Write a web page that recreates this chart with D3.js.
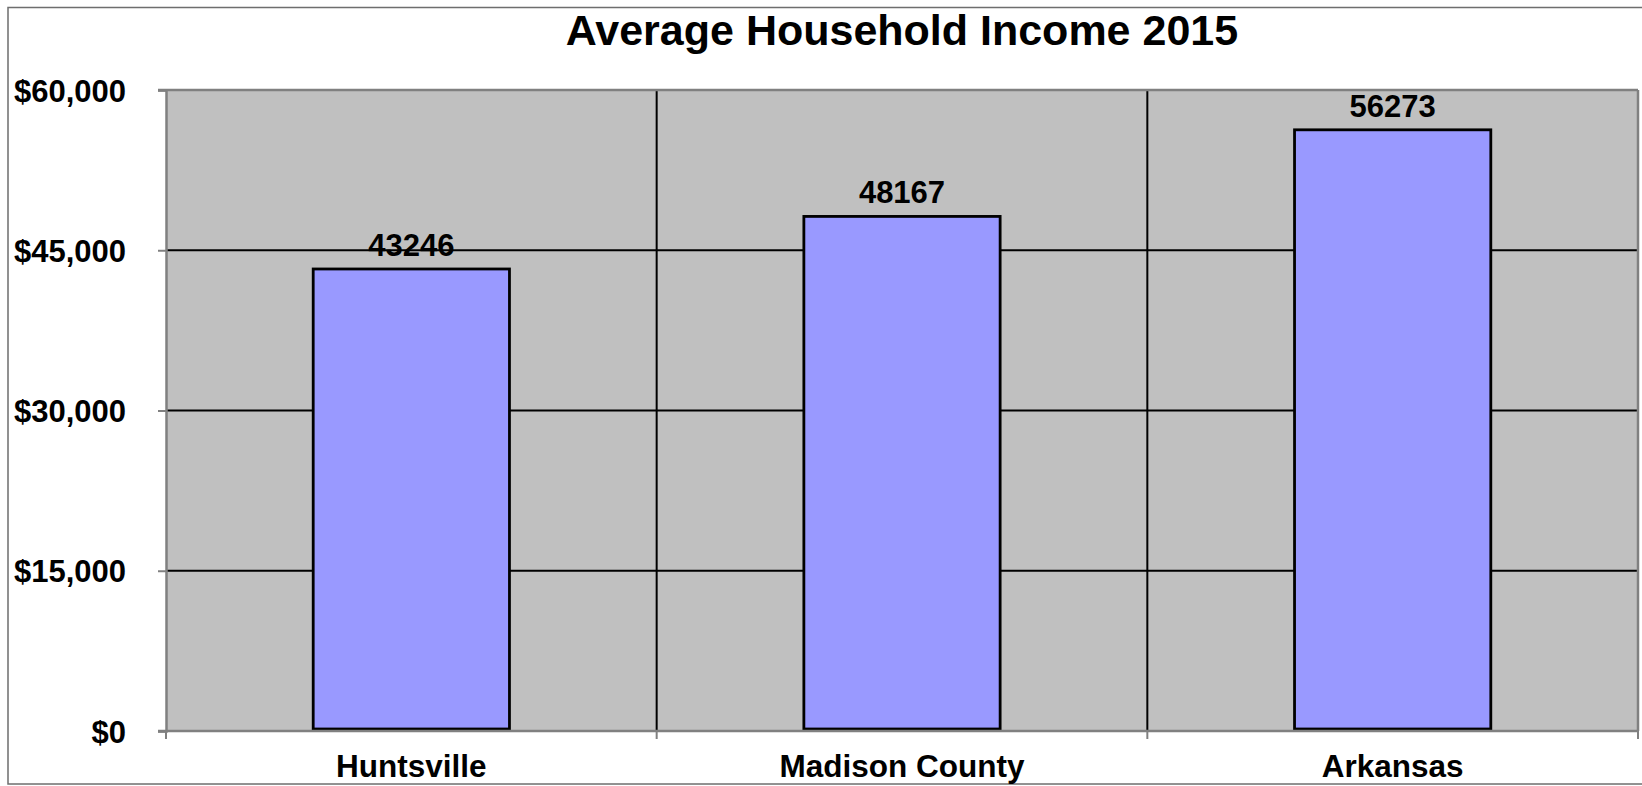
<!DOCTYPE html>
<html>
<head>
<meta charset="utf-8">
<script src="https://cdn.jsdelivr.net/npm/d3@7"></script>
<style>
  html, body { margin: 0; padding: 0; background: #fff; overflow: hidden; }
  svg { display: block; font-family: "Liberation Sans", Arial, sans-serif; font-weight: bold; }
</style>
</head>
<body>
<svg id="chart" width="1642" height="786"></svg>
<script>
const title = "Average Household Income 2015";
const categories = ["Huntsville", "Madison County", "Arkansas"];
const values = [43246, 48167, 56273];
const yTicks = [0, 15000, 30000, 45000, 60000];
const yTickLabels = ["$0", "$15,000", "$30,000", "$45,000", "$60,000"];

const svg = d3.select("#chart");
const plot = { left: 166, top: 90, right: 1638, bottom: 731 };

// outer chart border (chart is cropped at the right)
svg.append("rect")
  .attr("x", 8).attr("y", 7.5)
  .attr("width", 1700).attr("height", 776.5)
  .attr("fill", "#fff").attr("stroke", "#6e6e6e").attr("stroke-width", 1.5);

const x = d3.scaleBand()
  .domain(categories)
  .range([plot.left, plot.right])
  .paddingInner(0.6).paddingOuter(0.3);

const y = d3.scaleLinear()
  .domain([0, 60000])
  .range([plot.bottom, plot.top]);

// plot area background
svg.append("rect")
  .attr("x", plot.left).attr("y", plot.top)
  .attr("width", plot.right - plot.left).attr("height", plot.bottom - plot.top)
  .attr("fill", "#c0c0c0");

// horizontal gridlines
svg.append("g").selectAll("line")
  .data(yTicks.filter(d => d > 0 && d < 60000))
  .join("line")
  .attr("x1", plot.left).attr("x2", plot.right)
  .attr("y1", d => y(d)).attr("y2", d => y(d))
  .attr("stroke", "#000").attr("stroke-width", 2);

// vertical gridlines at category boundaries
const step = x.step();
const boundaries = d3.range(categories.length + 1).map(i => plot.left + i * step);
svg.append("g").selectAll("line")
  .data(boundaries.slice(1, -1))
  .join("line")
  .attr("x1", d => d).attr("x2", d => d)
  .attr("y1", plot.top).attr("y2", plot.bottom)
  .attr("stroke", "#000").attr("stroke-width", 2);

// plot border top / right
svg.append("line")
  .attr("x1", plot.left - 8).attr("x2", plot.right)
  .attr("y1", plot.top).attr("y2", plot.top)
  .attr("stroke", "#808080").attr("stroke-width", 2.5);
svg.append("line")
  .attr("x1", plot.right).attr("x2", plot.right)
  .attr("y1", plot.top).attr("y2", plot.bottom)
  .attr("stroke", "#808080").attr("stroke-width", 2.5);

// bars
svg.append("g").selectAll("rect")
  .data(values)
  .join("rect")
  .attr("x", (d, i) => x(categories[i]))
  .attr("y", d => y(d))
  .attr("width", x.bandwidth())
  .attr("height", d => y(0) - y(d) - 2)
  .attr("fill", "#9999ff")
  .attr("stroke", "#000").attr("stroke-width", 2.8);

// y axis
const yAxis = d3.axisLeft(y)
  .tickValues(yTicks)
  .tickFormat((d, i) => yTickLabels[i])
  .tickSize(8).tickPadding(32);
const ya = svg.append("g")
  .attr("transform", `translate(${plot.left},0)`)
  .call(yAxis);
ya.select(".domain").attr("stroke", "#808080").attr("stroke-width", 2.5);
ya.selectAll(".tick line").attr("stroke", "#808080").attr("stroke-width", 2);
ya.selectAll(".tick text")
  .attr("fill", "#000")
  .style("font-size", "31px").style("font-weight", "bold")
  .style("font-family", "'Liberation Sans', Arial, sans-serif")
  .attr("dy", "0.36em");

// x axis
const xa = svg.append("g")
  .attr("transform", `translate(0,${plot.bottom})`);
xa.append("line")
  .attr("x1", plot.left - 8).attr("x2", plot.right)
  .attr("y1", 0).attr("y2", 0)
  .attr("stroke", "#808080").attr("stroke-width", 2.5);
xa.selectAll("line.tk")
  .data(boundaries)
  .join("line").attr("class", "tk")
  .attr("x1", d => d).attr("x2", d => d)
  .attr("y1", 0).attr("y2", 8)
  .attr("stroke", "#808080").attr("stroke-width", 2);
xa.selectAll("text")
  .data(categories)
  .join("text")
  .attr("x", d => x(d) + x.bandwidth() / 2)
  .attr("y", 46)
  .attr("text-anchor", "middle")
  .style("font-size", "31.5px")
  .text(d => d);

// value labels
svg.append("g").selectAll("text")
  .data(values)
  .join("text")
  .attr("x", (d, i) => x(categories[i]) + x.bandwidth() / 2)
  .attr("y", d => y(d) - 13)
  .attr("text-anchor", "middle")
  .style("font-size", "31px")
  .text(d => d);

// title
svg.append("text")
  .attr("x", (plot.left + plot.right) / 2)
  .attr("y", 45)
  .attr("text-anchor", "middle")
  .style("font-size", "43px")
  .text(title);
</script>
</body>
</html>
